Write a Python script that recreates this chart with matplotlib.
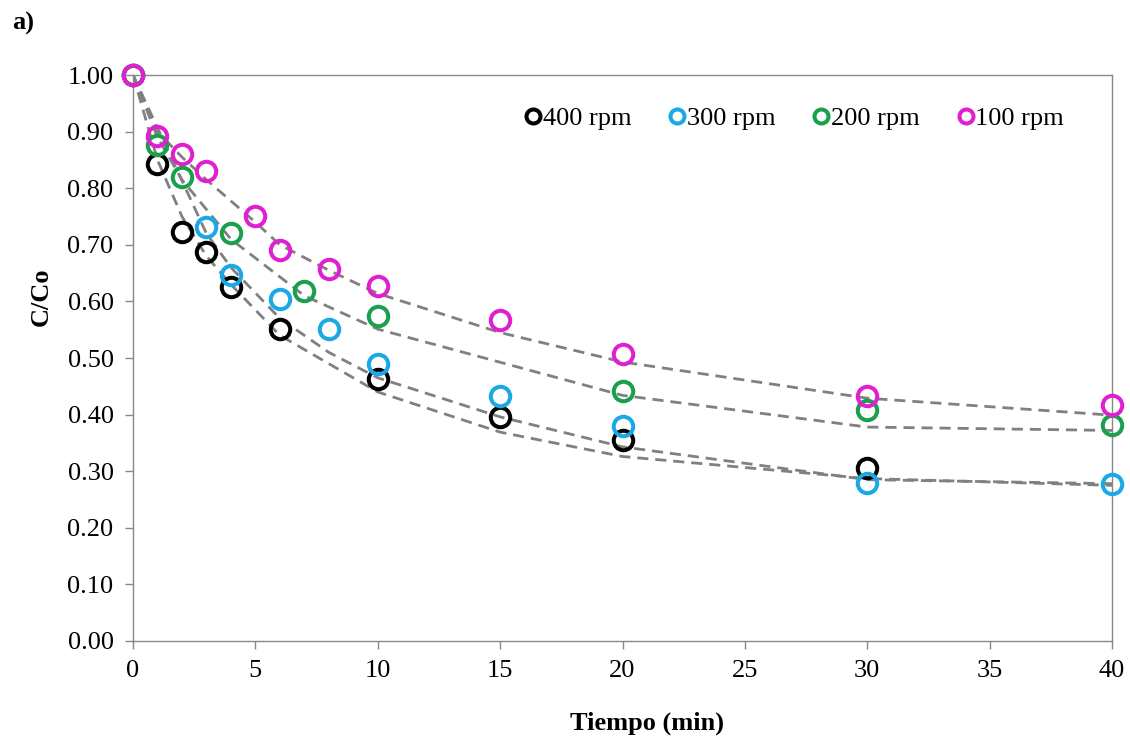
import numpy as np
import matplotlib.pyplot as plt

plt.rcParams['font.family'] = ['Liberation Serif', 'DejaVu Serif']

# datos experimentales C/Co vs tiempo
t_400 = [0, 1, 2, 3, 4, 6, 10, 15, 20, 30]
c_400 = [1.00, 0.843, 0.723, 0.688, 0.626, 0.552, 0.463, 0.396, 0.356, 0.305]

t_300 = [0, 3, 4, 6, 8, 10, 15, 20, 30, 40]
c_300 = [1.00, 0.731, 0.646, 0.605, 0.551, 0.489, 0.432, 0.379, 0.280, 0.277]

t_200 = [0, 1, 2, 4, 7, 10, 20, 30, 40]
c_200 = [1.00, 0.877, 0.820, 0.721, 0.619, 0.575, 0.442, 0.409, 0.382]

t_100 = [0, 1, 2, 3, 5, 6, 8, 10, 15, 20, 30, 40]
c_100 = [1.00, 0.892, 0.861, 0.830, 0.751, 0.691, 0.658, 0.628, 0.568, 0.507, 0.433, 0.417]

# curvas del modelo
tm_400 = [0, 1, 2, 3, 4, 6, 10, 15, 20, 30, 40]
cm_400 = [1.00, 0.85, 0.75, 0.68, 0.63, 0.54, 0.44, 0.369, 0.326, 0.287, 0.275]

tm_300 = [0, 3, 4, 6, 8, 10, 15, 20, 30, 40]
cm_300 = [1.00, 0.72, 0.66, 0.57, 0.51, 0.465, 0.396, 0.343, 0.285, 0.278]

tm_200 = [0, 1, 2, 4, 7, 10, 20, 30, 40]
cm_200 = [1.00, 0.89, 0.815, 0.71, 0.61, 0.551, 0.434, 0.378, 0.372]

tm_100 = [0, 1, 2, 3, 5, 6, 8, 10, 15, 20, 30, 40]
cm_100 = [1.00, 0.90, 0.855, 0.815, 0.74, 0.70, 0.655, 0.614, 0.545, 0.493, 0.429, 0.399]

labels = ['400 rpm', '300 rpm', '200 rpm', '100 rpm']
colors = ['#000000', '#1aa9e6', '#18a04c', '#e020d0']

fig = plt.figure(figsize=(11.3, 7.4), dpi=100)
ax = fig.add_axes([0.1177, 0.1338, 0.8664, 0.7648])

for tm, cm in [(tm_400, cm_400), (tm_300, cm_300), (tm_200, cm_200), (tm_100, cm_100)]:
    ax.plot(tm, cm, ls=(0, (4, 2.5)), color='#808080', lw=2.0, zorder=2)

series = [(t_400, c_400), (t_300, c_300), (t_200, c_200), (t_100, c_100)]
for (t, c), lab, col in zip(series, labels, colors):
    ax.plot(t, c, ls='none', marker='o', ms=14, mfc='none', mec=col, mew=2.9,
            label=lab, zorder=3, clip_on=False)

ax.set_xlim(0, 40)
ax.set_ylim(0, 1.0)
ax.set_xticks(np.arange(0, 41, 5))
ax.set_yticks(np.arange(0, 1.01, 0.1))
ax.set_yticklabels(['%.2f' % v for v in np.arange(0, 1.01, 0.1)])
ax.tick_params(direction='out', length=6, width=1, color='#888888', labelsize=19)
ax.tick_params(axis='y', pad=8)
ax.tick_params(axis='x', pad=8)
for s in ax.spines.values():
    s.set_color('#888888')
    s.set_linewidth(1)

ax.set_xlabel('Tiempo (min)', fontsize=19, fontweight='bold')
ax.xaxis.set_label_coords(0.525, -0.125)
ax.set_ylabel('C/Co', fontsize=19, fontweight='bold')
ax.yaxis.set_label_coords(-0.082, 0.608)

leg = ax.legend(loc='center left', bbox_to_anchor=(0.39, 0.923), ncol=4, frameon=False,
                fontsize=19, handlelength=0.6, handletextpad=0.05, columnspacing=1.45,
                markerscale=0.72, borderaxespad=0)

fig.text(0.011, 0.968, 'a)', fontsize=19, fontweight='bold', va='center')

fig.savefig('out.png', dpi=100)
